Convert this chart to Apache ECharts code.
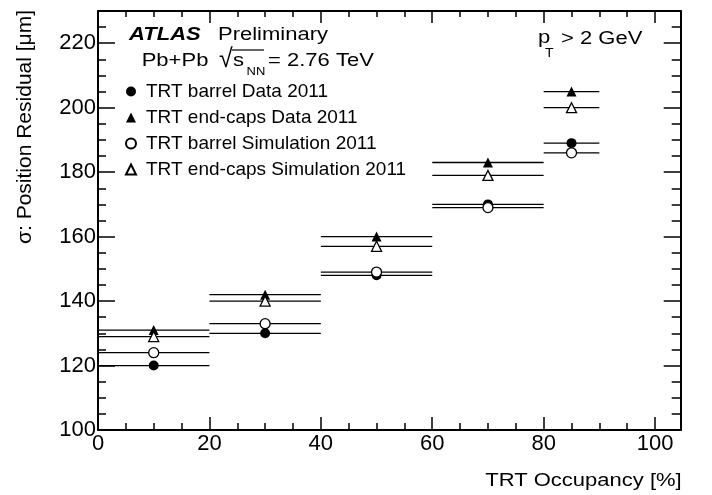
<!DOCTYPE html>
<html>
<head>
<meta charset="utf-8">
<script src="https://cdn.jsdelivr.net/npm/echarts@6/dist/echarts.min.js"></script>
<style>html,body{margin:0;padding:0;background:#fff;}#c{width:712px;height:495px;}</style>
</head>
<body>
<div id="c"></div>
<script>
// ---- data ----
const binLow = [0, 20, 40, 60, 80];
const binHigh = [20, 40, 60, 80, 90];
const binCenter = [10, 30, 50, 70, 85];
const barrelData = [120, 130, 148, 170, 189];
const endcapData = [131, 142, 160, 183, 205];
const barrelSim = [124, 133, 149, 169, 186];
const endcapSim = [129, 140, 157, 179, 200];
const seriesNames = ['TRT barrel Data 2011', 'TRT end-caps Data 2011', 'TRT barrel Simulation 2011', 'TRT end-caps Simulation 2011'];
const xTicks = {min: 0, max: 104.6, interval: 20};
const yTicks = {min: 100, max: 230, interval: 20};

const FONT = '"Liberation Sans", Arial, Helvetica, sans-serif';
const chart = echarts.init(document.getElementById('c'), null, {renderer: 'canvas'});

function barData(vals) { return vals.map((v, i) => [binLow[i], binHigh[i], v]); }
function ptData(vals) { return vals.map((v, i) => [binCenter[i], v]); }
function renderBar(params, api) {
  const p1 = api.coord([api.value(0), api.value(2)]);
  const p2 = api.coord([api.value(1), api.value(2)]);
  return {type: 'line', shape: {x1: p1[0], y1: p1[1], x2: p2[0], y2: p2[1]},
    style: {stroke: '#000', lineWidth: 1.3}};
}
const allVals = [barrelData, endcapData, barrelSim, endcapSim];
const symbols = ['circle', 'triangle', 'circle', 'triangle'];
const fills = ['#000', '#000', '#fff', '#fff'];

const series = [];
allVals.forEach((vals) => {
  series.push({type: 'custom', renderItem: renderBar, data: barData(vals),
    encode: {x: [0, 1], y: 2}, z: 2, silent: true});
});
allVals.forEach((vals, k) => {
  series.push({type: 'scatter', name: seriesNames[k], data: ptData(vals),
    symbol: symbols[k], symbolSize: 10, symbolKeepAspect: true, z: 5,
    itemStyle: {color: fills[k], borderColor: '#000', borderWidth: k >= 2 ? 1.3 : 0, opacity: 1}});
});

const axLine = {show: true, onZero: false, lineStyle: {color: '#000', width: 2}};
function mkX(pos, lab, maj, min) {
  return {type: 'value', position: pos, min: xTicks.min, max: xTicks.max, interval: xTicks.interval,
    axisLine: axLine, splitLine: {show: false},
    axisTick: {show: true, inside: true, length: maj, lineStyle: {color: '#000', width: 1.5}},
    minorTick: {show: true, splitNumber: 4, length: min, lineStyle: {color: '#000', width: 1.5}},
    axisLabel: {show: lab, fontSize: 22, fontFamily: FONT, color: '#000', margin: 3, showMaxLabel: false}};
}
function mkY(pos, lab, maj, min) {
  return {type: 'value', position: pos, min: yTicks.min, max: yTicks.max, interval: yTicks.interval,
    axisLine: axLine, splitLine: {show: false},
    axisTick: {show: true, inside: true, length: maj, lineStyle: {color: '#000', width: 1.5}},
    minorTick: {show: true, splitNumber: 4, length: min, lineStyle: {color: '#000', width: 1.5}},
    axisLabel: {show: lab, fontSize: 22, fontFamily: FONT, color: '#000', margin: 2, showMaxLabel: false}};
}

function txt(x, y, text, size, opts) {
  return Object.assign({type: 'text', x: x, y: y, scaleY: 0.86, silent: true,
    style: Object.assign({text: text, fontSize: size, fontFamily: FONT, fill: '#000',
      align: 'left', verticalAlign: 'middle'}, (opts && opts.style) || {})},
    (opts && opts.el) || {});
}

chart.setOption({
  animation: false,
  backgroundColor: '#fff',
  grid: {left: 98, right: 31.3, top: 11, bottom: 65, containLabel: false},
  xAxis: [mkX('bottom', true, 13, 7), mkX('top', false, 12, 6)],
  yAxis: [mkY('left', true, 17, 8), mkY('right', false, 17, 9)],
  legend: {
    show: true, orient: 'vertical', left: 120, top: 77, padding: 5, itemWidth: 10, itemHeight: 10, itemGap: 7,
    data: seriesNames.map((n, k) => ({name: n, icon: symbols[k]})), selectedMode: false,
    textStyle: {fontSize: 19, fontFamily: FONT, color: '#000', padding: [0, 0, 0, 5]}
  },
  series: series,
  graphic: [
    txt(129, 35, 'ATLAS', 22, {style: {fontWeight: 'bold', fontStyle: 'italic'}}),
    txt(218, 35, 'Preliminary', 22),
    txt(141.7, 61, 'Pb+Pb', 22),
    {type: 'text', x: 219, y: 60, silent: true, scaleY: 1.05,
      style: {text: '\u221A', fontSize: 25, fontFamily: FONT, fill: '#000', align: 'left', verticalAlign: 'middle'}},
    {type: 'line', silent: true, shape: {x1: 232, y1: 50, x2: 264, y2: 50}, style: {stroke: '#000', lineWidth: 1.2}},
    txt(233, 61, 's', 22),
    txt(246.5, 72, 'NN', 13),
    txt(268, 61, '= 2.76 TeV', 22),
    txt(538, 38, 'p', 22),
    txt(545, 54, 'T', 14),
    txt(561, 38.5, '> 2 GeV', 22),
    txt(681.7, 480.7, 'TRT Occupancy [%]', 22, {style: {align: 'right'}}),
    {type: 'text', x: 25, y: 10, rotation: Math.PI / 2, silent: true,
      style: {text: '\u03C3: Position Residual [\u03BCm]', fontSize: 21, fontFamily: FONT, fill: '#000',
        align: 'right', verticalAlign: 'middle'}}
  ]
});
</script>
</body>
</html>
